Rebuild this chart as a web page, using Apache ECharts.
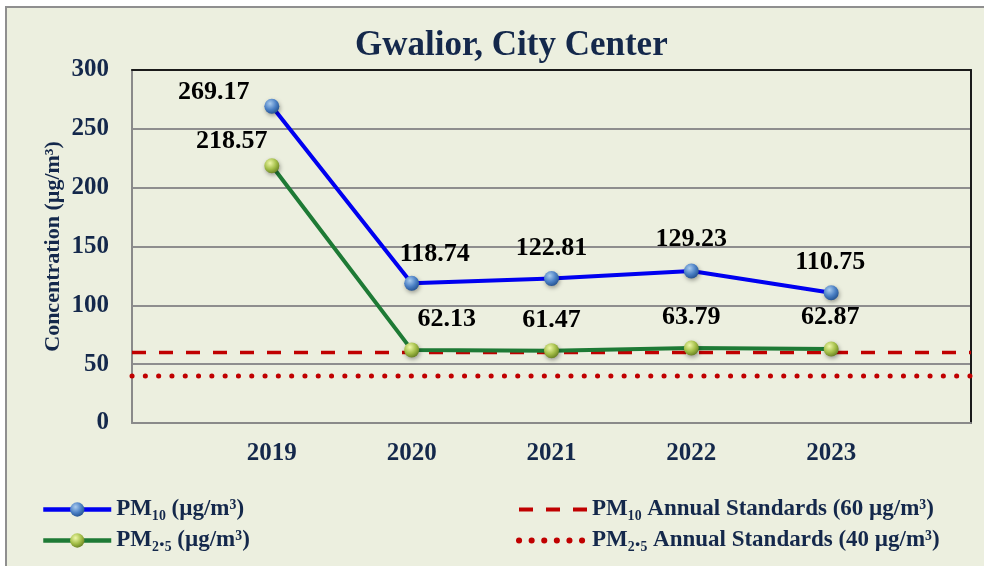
<!DOCTYPE html>
<html>
<head>
<meta charset="utf-8">
<script src="https://cdn.jsdelivr.net/npm/echarts@6/dist/echarts.min.js"></script>
<style>
  html, body { margin: 0; padding: 0; background: #ffffff; }
  #chart { width: 984px; height: 566px; }
</style>
</head>
<body>
<div id="chart"></div>
<script>
// data
var years = [2019, 2020, 2021, 2022, 2023];
var pm10 = [269.17, 118.74, 122.81, 129.23, 110.75];
var pm25 = [218.57, 62.13, 61.47, 63.79, 62.87];
var pm10Standard = 60;
var pm25Standard = 40;
var yTicks = [0, 50, 100, 150, 200, 250, 300];

// where each value label sits relative to its point (layout only)
var pm10LabelOffset = [[-58, -14], [23, -29], [0, -30], [0, -32], [-1, -30]];
var pm25LabelOffset = [[-40, -25], [35, -31], [0, -30], [0, -31], [-1, -32]];

var navy = "#14284B";
var serif = "'Liberation Serif', 'DejaVu Serif', serif";

var ball = function (light, base, dark) {
  return {
    type: "radial", x: 0.38, y: 0.32, r: 0.75,
    colorStops: [
      { offset: 0, color: light },
      { offset: 0.55, color: base },
      { offset: 1, color: dark },
    ],
  };
};

var points = function (vals, offsets) {
  return vals.map(function (v, i) {
    return {
      value: [years[i], v],
      label: { offset: offsets[i] },
    };
  });
};

var spanLine = function (v) {
  return [[years[0] - 1, v], [years[years.length - 1] + 1, v]];
};

var legendText = { fontFamily: serif, fontWeight: "bold", fontSize: 23, color: navy };
var noSymbol = { color: "rgba(0,0,0,0)", borderWidth: 0, shadowBlur: 0 };

var myChart = echarts.init(document.getElementById("chart"));
var option = {
  backgroundColor: "#ffffff",
  animation: false,
  graphic: [
    {
      type: "rect",
      z: -10,
      shape: { x: 6, y: 7, width: 990, height: 570 },
      style: { fill: "#ECEFDF", stroke: "#8F8F8F", lineWidth: 2 },
    },
  ],
  title: {
    text: "Gwalior, City Center",
    left: 350,
    top: 23,
    textStyle: {
      fontFamily: serif,
      fontWeight: "bold",
      fontSize: 35,
      color: navy,
    },
  },
  grid: {
    left: 132,
    right: 13,
    top: 70,
    bottom: 143,
  },
  legend: [
    {
      orient: "vertical",
      left: 36,
      top: 493,
      itemWidth: 68,
      itemHeight: 18,
      itemGap: 8,
      lineStyle: { width: 4.5 },
      data: ["PM₁₀ (µg/m³)", "PM₂.₅ (µg/m³)"],
      textStyle: legendText,
    },
    {
      orient: "vertical",
      left: 511,
      top: 493,
      itemWidth: 68,
      itemHeight: 18,
      itemGap: 8,
      data: [
        {
          name: "PM₁₀ Annual Standards (60 µg/m³)",
          itemStyle: noSymbol,
          lineStyle: { width: 4, type: [14, 13] },
        },
        {
          name: "PM₂.₅ Annual Standards (40 µg/m³)",
          itemStyle: noSymbol,
          lineStyle: { width: 6, type: [0.1, 12.5], cap: "round" },
        },
      ],
      textStyle: legendText,
    },
  ],
  xAxis: [
    {
      type: "value",
      min: years[0] - 1,
      max: years[years.length - 1] + 1,
      interval: 1,
      axisLine: { show: true, lineStyle: { color: "#8A8A8A", width: 2 } },
      axisTick: { show: false },
      splitLine: { show: false },
      axisLabel: {
        margin: 18,
        fontFamily: serif,
        fontWeight: "bold",
        fontSize: 25,
        color: navy,
        formatter: function (v) {
          return years.indexOf(v) >= 0 ? String(v) : "";
        },
      },
    },
    {
      type: "value",
      position: "top",
      min: years[0] - 1,
      max: years[years.length - 1] + 1,
      axisLine: { show: true, onZero: false, lineStyle: { color: "#1A1A1A", width: 2 } },
      axisTick: { show: false },
      axisLabel: { show: false },
      splitLine: { show: false },
    },
  ],
  yAxis: [
    {
      type: "value",
      min: yTicks[0],
      max: yTicks[yTicks.length - 1],
      interval: 50,
      name: "Concentration (µg/m³)",
      nameLocation: "center",
      nameGap: 68,
      nameMoveOverlap: false,
      nameTextStyle: { fontFamily: serif, fontWeight: "bold", fontSize: 22, color: navy },
      axisLine: { show: true, lineStyle: { color: "#8A8A8A", width: 2 } },
      axisTick: { show: false },
      splitLine: { show: true, lineStyle: { color: "#8E8E8E", width: 2 } },
      axisLabel: {
        margin: 23,
        fontFamily: serif,
        fontWeight: "bold",
        fontSize: 25,
        color: navy,
      },
    },
    {
      type: "value",
      position: "right",
      min: yTicks[0],
      max: yTicks[yTicks.length - 1],
      axisLine: { show: true, onZero: false, lineStyle: { color: "#1A1A1A", width: 2 } },
      axisTick: { show: false },
      axisLabel: { show: false },
      splitLine: { show: false },
    },
  ],
  series: [
    {
      name: "PM₁₀ Annual Standards (60 µg/m³)",
      type: "line",
      symbol: "none",
      data: spanLine(pm10Standard),
      lineStyle: { color: "#C00000", width: 3.5, type: [14, 13] },
      itemStyle: { color: "#C00000" },
      z: 3,
      silent: true,
    },
    {
      name: "PM₂.₅ Annual Standards (40 µg/m³)",
      type: "line",
      symbol: "none",
      data: spanLine(pm25Standard),
      lineStyle: { color: "#C00000", width: 5, type: [0.1, 13.2], cap: "round" },
      itemStyle: { color: "#C00000" },
      z: 3,
      silent: true,
    },
    {
      name: "PM₁₀ (µg/m³)",
      type: "line",
      symbol: "circle",
      symbolSize: 15,
      data: points(pm10, pm10LabelOffset),
      lineStyle: { color: "#0000F0", width: 4 },
      itemStyle: {
        color: ball("#A9CBEE", "#4A7FC4", "#1F4C8A"),
        shadowBlur: 4,
        shadowColor: "rgba(0,0,0,0.35)",
        shadowOffsetX: 1,
        shadowOffsetY: 2,
      },
      label: {
        show: true,
        position: "inside",
        fontFamily: serif,
        fontWeight: "bold",
        fontSize: 26,
        color: "#000000",
        formatter: function (p) { return p.value[1].toFixed(2); },
      },
      z: 5,
    },
    {
      name: "PM₂.₅ (µg/m³)",
      type: "line",
      symbol: "circle",
      symbolSize: 15,
      data: points(pm25, pm25LabelOffset),
      lineStyle: { color: "#1E7A35", width: 4 },
      itemStyle: {
        color: ball("#EEF7A8", "#A3BE48", "#617A1E"),
        shadowBlur: 4,
        shadowColor: "rgba(0,0,0,0.35)",
        shadowOffsetX: 1,
        shadowOffsetY: 2,
      },
      label: {
        show: true,
        position: "inside",
        fontFamily: serif,
        fontWeight: "bold",
        fontSize: 26,
        color: "#000000",
        formatter: function (p) { return p.value[1].toFixed(2); },
      },
      z: 5,
    },
  ],
};
option && myChart.setOption(option);
</script>
</body>
</html>
